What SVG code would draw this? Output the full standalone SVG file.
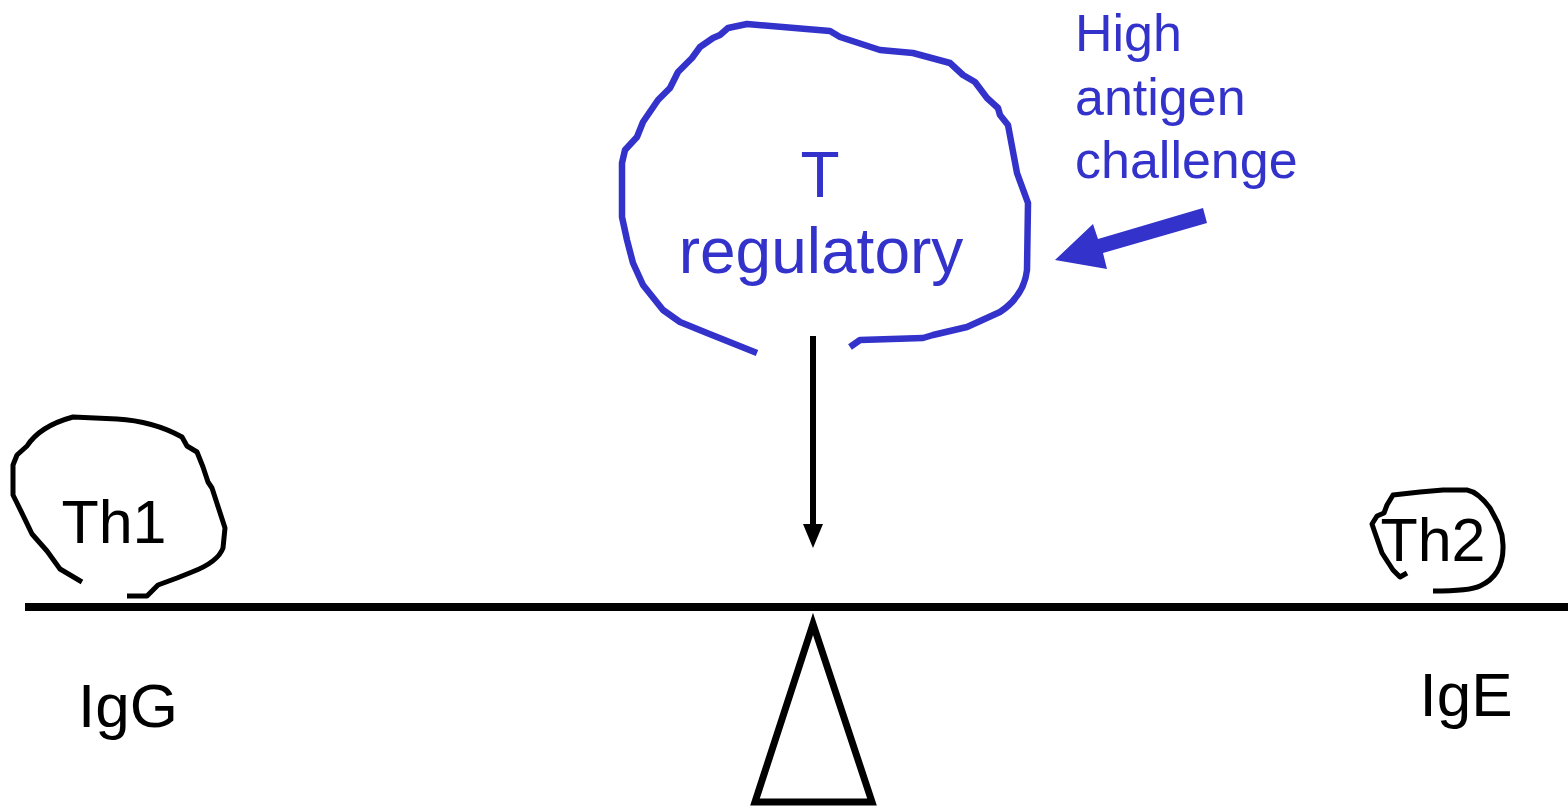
<svg xmlns="http://www.w3.org/2000/svg" width="1568" height="809" viewBox="0 0 1568 809">
<style>
.blob{fill:none;stroke-linejoin:round;stroke-linecap:butt}
.blue{stroke:#3333CC;stroke-width:6.5}
.blk{stroke:#000;stroke-width:5}
.t{font-family:"Liberation Sans",Arial,sans-serif}
.tb{fill:#3333CC}
.tk{fill:#000}
</style>
<rect width="1568" height="809" fill="#fff"/>
<g id="treg">
<path class="blob blue" d="M757,353 L707,333 L680,322 L663,310 L643,285 L633,263 L627,240 L622,217 L622,163 L625,150 L637,137 L643,122 L658,100 L670,88 L678,72 L692,58 L700,47 L713,38 L720,35 L728,28 L747,24 L830,31 L840,37 L880,50 L913,53 L950,63 L963,75 L975,82 L987,98 L998,108 L1000,115 L1008,125 L1017,173 L1028,203 L1027,270 Q1024,296 1000,312 L967,327 L933,335 L923,338 L860,340 L850,347"/>
<text class="t tb" x="820" y="197" font-size="64" text-anchor="middle">T</text>
<text class="t tb" x="821" y="273" font-size="64" text-anchor="middle">regulatory</text>
</g>
<g id="challenge">
<text class="t tb" font-size="52"><tspan x="1075" y="51">High</tspan><tspan x="1075" y="115">antigen</tspan><tspan x="1075" y="178">challenge</tspan></text>
</g>
<g id="th1">
<path class="blob blk" d="M82,582 L60,569 L47,551 L32,534 Q22,513 13,495 L13,465 L17,455 L27,446 Q40,426 73,417 L117,419 Q153,421 182,437 L187,446 L197,452 L203,467 L208,482 L212,488 L225,528 L223,548 Q218,562 192,572 L177,578 L158,585 L147,596 L127,596"/>
<text class="t tk" x="114" y="543" font-size="61" text-anchor="middle">Th1</text>
</g>
<g id="th2">
<path class="blob blk" d="M1407,573 L1400,577 L1393,570 L1382,553 L1374,530 L1372,524 L1377,516 L1384,513 L1387,505 L1393,495 L1420,492 L1443,490 L1467,490 Q1478,492 1490,508 L1498,523 L1502,535 L1503,545 Q1504,575 1480,586 Q1470,591 1433,591"/>
<text class="t tk" x="1433" y="561" font-size="61" text-anchor="middle">Th2</text>
</g>
<g id="lever">
<line x1="25" y1="607" x2="1568" y2="607" stroke="#000" stroke-width="8"/>
<polygon points="813,624 755,802 872,802" fill="none" stroke="#000" stroke-width="7" stroke-linejoin="miter"/>
</g>
<g id="labels">
<text class="t tk" x="128" y="727" font-size="62" text-anchor="middle">IgG</text>
<text class="t tk" x="1466" y="716" font-size="62" text-anchor="middle">IgE</text>
</g>
<g id="connectors">
<line x1="813" y1="336" x2="813" y2="526" stroke="#000" stroke-width="6"/>
<polygon points="803,524 823,524 813,548" fill="#000"/>
<polygon points="1203,208 1207,223 1103,253 1107,269 1055,260 1093,224 1098,239" fill="#3333CC"/>
</g>
</svg>
